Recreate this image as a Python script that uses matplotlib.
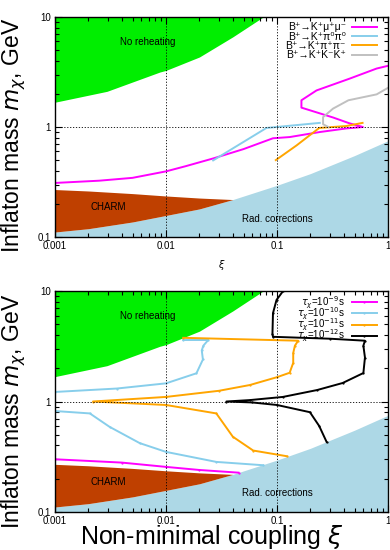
import matplotlib
matplotlib.use("Agg")
import matplotlib.pyplot as plt
from matplotlib.ticker import LogLocator, FixedLocator, FixedFormatter, NullFormatter

plt.rcParams['font.family'] = ['Liberation Sans', 'DejaVu Sans']
plt.rcParams['mathtext.fontset'] = 'dejavusans'

# ---- shaded regions (shared by both panels) ----
noreh_xi = [0.001, 0.00294, 0.0088, 0.01, 0.02, 0.04, 0.075]
noreh_m = [1.68, 2.11, 3.16, 3.27, 4.33, 6.6, 10.0]

rad_xi = [0.001, 0.002, 0.005, 0.01, 0.02, 0.04, 0.1, 0.2, 0.5, 1.0]
rad_m = [0.111, 0.119, 0.137, 0.157, 0.18, 0.219, 0.295, 0.377, 0.55, 0.75]

charm_xi = [0.001, 0.002, 0.005, 0.01, 0.02, 0.04]
charm_top = [0.27, 0.262, 0.248, 0.236, 0.226, 0.219]
charm_bot = [0.111, 0.119, 0.137, 0.157, 0.18, 0.219]

# ---- top panel: B decays ----
mumu_xi = [0.001, 0.0025, 0.005, 0.01, 0.015, 0.027, 0.05, 0.092, 0.13, 0.243, 0.42, 0.595,
           0.45, 0.32, 0.166, 0.166, 0.227, 0.45, 0.79, 1.0]
mumu_m = [0.31, 0.325, 0.345, 0.395, 0.44, 0.52, 0.63, 0.79, 0.81, 0.9, 0.97, 1.0,
          1.08, 1.22, 1.5, 1.75, 2.15, 2.75, 3.4, 3.6]
pi0_xi = [0.0266, 0.0803, 0.243]
pi0_m = [0.497, 0.98, 1.09]
pipm_xi = [0.0975, 0.15, 0.24, 0.42, 0.59]
pipm_m = [0.5, 0.68, 0.98, 1.02, 1.09]
kkk_xi = [0.29, 0.26, 0.26, 0.32, 0.44, 0.79, 1.0]
kkk_m = [1.0, 1.06, 1.23, 1.47, 1.75, 1.98, 2.27]
top_labels = ['B⁺→K⁺μ⁺μ⁻', 'B⁺→K⁺π⁰π⁰', 'B⁺→K⁺π⁺π⁻', 'B⁺→K⁺K⁻K⁺']

# ---- bottom panel: lifetimes ----
t9_xi = [0.001, 0.004, 0.01, 0.02, 0.045]
t9_m = [0.30, 0.28, 0.256, 0.24, 0.227]
t10a_xi = [0.0143, 0.024, 0.0217, 0.021, 0.0215, 0.0188, 0.01, 0.0036, 0.001]
t10a_m = [3.6, 3.6, 3.2, 2.9, 2.4, 1.8, 1.46, 1.31, 1.22]
t10b_xi = [0.001, 0.00206, 0.0031, 0.0058, 0.01, 0.0284, 0.075]
t10b_m = [0.82, 0.78, 0.59, 0.42, 0.35, 0.284, 0.265]
t11_xi = [0.0143, 0.155, 0.145, 0.14, 0.14, 0.13, 0.1, 0.057, 0.03, 0.01, 0.0022,
          0.01, 0.0284, 0.04, 0.061, 0.122]
t11_m = [3.77, 3.55, 3.2, 2.75, 2.24, 1.82, 1.66, 1.41, 1.25, 1.1, 1.0,
         0.93, 0.78, 0.48, 0.36, 0.32]
t12_xi = [0.1135, 0.099, 0.092, 0.091, 0.092, 0.3, 0.62, 0.6, 0.62, 0.6, 0.39, 0.23, 0.113,
          0.057, 0.035, 0.06, 0.1, 0.198, 0.24, 0.28]
t12_m = [10, 8.3, 6.3, 4.1, 3.85, 3.7, 3.55, 3.2, 2.5, 1.81, 1.47, 1.27, 1.1,
         1.03, 1.0, 0.98, 0.93, 0.80, 0.6, 0.43]
bot_labels = [r'$\tau_\chi$=10$^{-9}$s', r'$\tau_\chi$=10$^{-10}$s',
              r'$\tau_\chi$=10$^{-11}$s', r'$\tau_\chi$=10$^{-12}$s']

GREEN = '#00ee00'
BROWN = '#bf4000'
LBLUE = '#add8e6'
MAG = '#ff00ff'
SKY = '#87ceeb'
ORG = '#ffa500'
GRAY = '#c0c0c0'

fig = plt.figure(figsize=(3.9, 5.5), dpi=100)
ax1 = fig.add_axes([55/390, 1-237/550, 333/390, 220/550])
ax2 = fig.add_axes([55/390, 1-512/550, 333/390, 221/550])


def base(ax, ytext_noreh, ytext_charm, ytext_rad):
    ax.set_xscale('log')
    ax.set_yscale('log')
    ax.set_xlim(0.001, 1)
    ax.set_ylim(0.1, 10)
    ax.fill_between(noreh_xi, noreh_m, 10, color=GREEN, lw=0, zorder=1)
    ax.fill_between(rad_xi, 0.1, rad_m, color=LBLUE, lw=0, zorder=1)
    ax.fill_between(charm_xi, charm_bot, charm_top, color=BROWN, lw=0, zorder=1)
    ax.text(0.0069, ytext_noreh, 'No reheating', fontsize=7, ha='center', va='center', zorder=5)
    ax.text(0.003, ytext_charm, 'CHARM', fontsize=7, ha='center', va='center', zorder=5)
    ax.text(0.1, ytext_rad, 'Rad. corrections', fontsize=7, ha='center', va='center', zorder=5)
    ax.xaxis.set_major_locator(FixedLocator([0.001, 0.01, 0.1, 1]))
    ax.xaxis.set_major_formatter(FixedFormatter(['0.001', '0.01', '0.1', '1']))
    ax.yaxis.set_major_locator(FixedLocator([0.1, 1, 10]))
    ax.yaxis.set_major_formatter(FixedFormatter(['0.1', '1', '10']))
    ax.xaxis.set_minor_locator(LogLocator(base=10, subs=range(2, 10)))
    ax.yaxis.set_minor_locator(LogLocator(base=10, subs=range(2, 10)))
    ax.xaxis.set_minor_formatter(NullFormatter())
    ax.yaxis.set_minor_formatter(NullFormatter())
    ax.tick_params(which='both', direction='in', top=True, right=True, labelsize=7,
                   width=0.8, pad=3)
    ax.tick_params(which='major', length=5)
    ax.tick_params(which='minor', length=3)
    for s in ax.spines.values():
        s.set_linewidth(1.0)
        s.set_zorder(6)
    for v in [0.01, 0.1]:
        ax.axvline(v, color='k', ls=(0, (1.5, 2)), lw=0.6, zorder=4)
    ax.axhline(1, color='k', ls=(0, (1.5, 2)), lw=0.6, zorder=4)


base(ax1, 5.9, 0.187, 0.147)
lw = 1.4
ax1.plot(mumu_xi, mumu_m, color=MAG, lw=lw, label=top_labels[0], zorder=3)
ax1.plot(pi0_xi, pi0_m, color=SKY, lw=lw, label=top_labels[1], zorder=3)
ax1.plot(pipm_xi, pipm_m, color=ORG, lw=lw, label=top_labels[2], zorder=3)
ax1.plot(kkk_xi, kkk_m, color=GRAY, lw=lw, label=top_labels[3], zorder=3)
ax1.legend(loc='upper right', bbox_to_anchor=(0.967, 0.975), frameon=False, fontsize=7.5,
           markerfirst=False, handlelength=2.4, handletextpad=0.6, labelspacing=-0.07,
           borderpad=0, borderaxespad=0)

base(ax2, 5.97, 0.187, 0.15)
ms = 1.2
ax2.plot(t9_xi, t9_m, color=MAG, lw=lw, marker='.', ms=ms, label=bot_labels[0], zorder=3)
ax2.plot(t10a_xi, t10a_m, color=SKY, lw=lw, marker='.', ms=ms, label=bot_labels[1], zorder=3)
ax2.plot(t10b_xi, t10b_m, color=SKY, lw=lw, marker='.', ms=ms, zorder=3)
ax2.plot(t11_xi, t11_m, color=ORG, lw=lw, marker='.', ms=ms, label=bot_labels[2], zorder=3)
ax2.plot(t12_xi, t12_m, color='k', lw=lw, marker='.', ms=ms, label=bot_labels[3], zorder=3)
ax2.legend(loc='upper right', bbox_to_anchor=(0.967, 0.985), frameon=False, fontsize=7,
           markerfirst=False, handlelength=2.6, handletextpad=0.7, labelspacing=-0.52,
           borderpad=0, borderaxespad=0)

fig.text(14/390, 1-135/550, r'Inflaton mass $m_\chi$, GeV', rotation=90, fontsize=16.5,
         ha='center', va='center')
fig.text(14/390, 1-411/550, r'Inflaton mass $m_\chi$, GeV', rotation=90, fontsize=16.5,
         ha='center', va='center')
fig.text(222/390, 1-265/550, r'$\xi$', fontsize=7, ha='center', va='center')
fig.text(212/390, 1-544/550, r'Non-minimal coupling $\xi$', fontsize=18, ha='center',
         va='baseline')

fig.savefig('out.png', dpi=100)
